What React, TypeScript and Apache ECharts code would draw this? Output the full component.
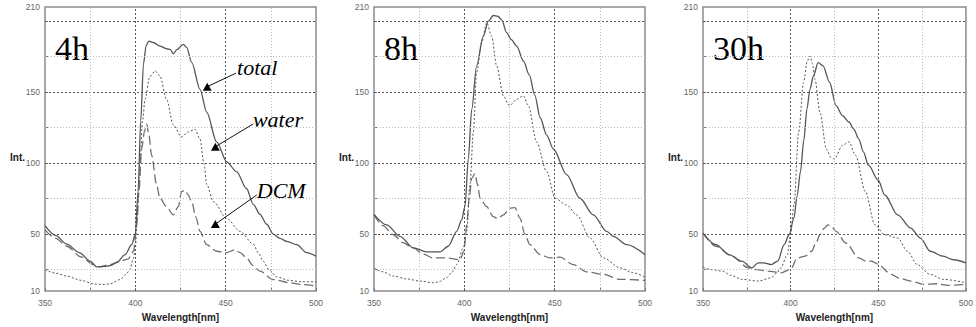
import React, { useEffect, useRef } from "react";
import * as echarts from "echarts";

// ---- data (wavelength nm, intensity) ----
const total4h = [[350,56],[356,49],[362,43],[369,37],[375,31],[378.6,27],[383,27.3],[386,27.8],[389.7,30],[394.3,35.6],[398,42.6],[400,50],[401.5,80],[403,130],[404.5,170],[406,183],[407.5,186],[410,185],[413.6,182.5],[417.3,180.6],[419.5,180],[421,177],[423,180],[426.6,183.7],[428.4,181.5],[431.2,171],[435.8,152],[439.5,136],[445,115],[450.6,101],[456,94],[461.6,82],[465.3,71],[469,64],[472.7,57],[476.4,50],[480,47],[483.8,45],[489.3,42.6],[494.8,37],[500,34.5]];
const water4h = [[350,25],[356,22.5],[362,20.5],[370,17.5],[377,15],[382,14.6],[386,15],[391.5,18],[395,22],[397,25],[398.9,33],[400,40],[401,60],[402.6,100],[404,130],[405.4,145],[408,161],[411,165],[413.6,161.5],[417.3,145],[421,127],[425.6,118.5],[429.3,122],[433,124],[435.8,117],[438,100],[439.5,85],[443.2,73],[450.6,61],[458,52],[465.3,43],[468,37],[470.8,31],[474,25],[478.2,20],[485,17.5],[492,16.5],[500,16.5]];
const dcm4h = [[350,53],[356,47],[362,41.5],[370,34],[376.8,28.6],[380.4,27],[386,28.6],[391.5,31],[396,32.5],[399,38],[400.7,56],[402,80],[403.5,110],[405,122],[406.3,127.7],[407.5,120],[409,105.6],[411.8,84.6],[413.6,75.3],[417.3,69.4],[421,63.6],[423.8,69.4],[425.6,80],[427.5,81],[429,78],[431.2,73],[433.5,62],[435.8,52],[439.5,42.6],[445,38],[450.6,37],[455,39],[458,37],[461.6,33.3],[465,28],[469,24],[476.4,18],[485.6,15.8],[492,14.5],[500,13.5]];

const total8h = [[350,64],[357,56.6],[364.4,48.5],[371.8,40.3],[379.2,37.5],[386.5,37.5],[391.1,41.5],[395.8,52],[398.5,60],[400.4,70],[402.2,103],[404.1,138],[406.8,168.5],[410.5,189.5],[413.3,200],[416,204],[418.5,203.5],[420.7,201],[423.4,192],[426,187],[429,182.5],[432.7,172],[436,162],[439,148],[442,132],[445.5,120],[449.3,110],[456.6,92],[464,75.3],[471.4,63.6],[478.8,52],[482.5,48.5],[489.9,42.6],[500,35.6]];
const water8h = [[350,26],[355,23.5],[360.7,20.5],[368,18.5],[375.5,17],[382.8,15.8],[386,16.5],[390.2,19.3],[393,23],[395.8,28.6],[399.4,40.3],[401.3,52],[403.1,84.6],[405,122],[406.8,164],[409.6,185],[412.4,199],[415.1,189.5],[417.9,168.5],[421.6,147.5],[424.9,140.5],[429,145],[432.7,147.5],[435.4,140.5],[440,115],[445.6,94],[450.2,75.3],[456.6,70.6],[462.2,63.6],[469.6,47.3],[477,33.3],[486.2,26.3],[493,23],[500,19.8]];
const dcm8h = [[350,63.6],[355,56],[360.7,49.6],[366,44],[371.8,40.3],[377,36],[382.8,33.3],[390.2,33.3],[397.6,32],[399.8,38],[401.3,56.6],[402.7,75],[404.1,89.3],[405.9,92.7],[407.3,85],[408.7,75.3],[412.4,69.4],[416,62.4],[418.5,61],[421.6,63.6],[425.3,68.3],[428,68.7],[430.8,61.3],[433.5,50],[436.3,42.6],[441.9,35.6],[447.4,33.3],[453,33.8],[460.3,28.6],[467.7,23.5],[476.9,21.7],[486.2,18.2],[500,17.5]];

const total30h = [[350,50.8],[357.4,42.6],[364.8,35.6],[372.2,31],[377.8,26.3],[381.5,29.8],[384.3,29.8],[388.9,28.6],[392.6,31],[396.3,42.6],[399.1,49.6],[401.9,61.3],[403.7,77],[405.6,94],[407.5,116],[409.3,138],[411,152],[413,161.5],[415.7,170.8],[418.5,168.5],[422.2,157],[425.9,140.5],[429.6,133.5],[433.3,129],[436,124],[438.9,117],[441.5,108],[444.4,98.6],[450,88],[453.7,77.6],[461.1,63.6],[468.5,54.3],[474.1,47.3],[479.6,38],[487,34.5],[493,32],[500,29.8]];
const water30h = [[350,26.8],[355,25],[361.1,24],[366,21],[372.2,18.2],[381.5,17],[388.9,19.3],[392,22.5],[394.4,26.3],[398.1,35.6],[400,50],[401.9,70.6],[404.6,122],[407.4,157],[409.5,172],[411.1,175.5],[412.5,170],[413.9,159],[416.7,136],[420.4,110],[423,104],[425,103],[429.6,112.6],[433.3,115],[437,105.6],[442.6,80],[448.1,56.6],[453.7,49.6],[461.1,47.3],[466.7,38],[472.2,28.6],[479.6,21.7],[487,18.2],[500,15.8]];
const dcm30h = [[350,50.8],[357.4,41.5],[366.7,34.5],[375.9,26.3],[381,25],[387,24],[394.4,22.8],[400,25.2],[403.7,33.3],[408.3,34.5],[412,38],[414.5,44],[416.7,49.6],[419,54],[421.3,56.6],[423.5,55],[425.9,52],[431.5,43.8],[438.9,33.3],[443,31],[446.3,31],[448,30],[450,28.6],[457.4,21.7],[462,19],[468.5,17],[475.9,14.7],[483.3,15.1],[490,14],[500,14.7]];

const panelLabels = ["4h", "8h", "30h"];
const yLabelValues = [10, 50, 100, 150, 210];
const yTickValues = [25, 50, 75, 100, 125, 150, 175, 200];
const majorY = [50, 100, 150, 200];
const minorY = [25, 75, 125, 175];
const majorX = [400, 450];
const minorX = [375, 425, 475];

// annotation (panel 1) in data coordinates
const arrowLabels = ["total", "water", "DCM"];
const arrowTextAt = [[456.3, 167.5], [465.1, 130.5], [467.2, 80.5]];
const arrowFrom = [[455.7, 163.4], [465.3, 127.7], [467.2, 77.6]];
const arrowTip = [[439.8, 153.9], [444.3, 111.6], [444.3, 57.1]];

const SANS = "'Liberation Sans', Arial, sans-serif";
const SERIF = "'Liberation Serif', 'Times New Roman', serif";

export default function App() {
  const ref = useRef<HTMLDivElement>(null);
  useEffect(() => {
    if (!ref.current) return;
    const chart = echarts.init(ref.current, undefined, { renderer: "svg" });
    const data = [
      [total4h, water4h, dcm4h],
      [total8h, water8h, dcm8h],
      [total30h, water30h, dcm30h],
    ];
    const lefts = [45, 374, 703];
    const widths = [271, 271, 270];
    const top = 7;
    const height = 286;

    const grids = lefts.map((l, i) => ({
      left: l, top, width: widths[i], height,
      show: true, borderColor: "#8c8c8c", borderWidth: 1.5, backgroundColor: "transparent",
    }));
    const xAxes = lefts.map((_, i) => ({
      type: "value", gridIndex: i, min: 350, max: 500, interval: 25,
      axisLine: { show: false },
      axisTick: { show: true, inside: true, length: 3, lineStyle: { color: "#777" } },
      axisLabel: {
        formatter: (v: number) => (v % 50 === 0 ? String(v) : ""),
        color: "#666", fontSize: 8.5, fontFamily: SANS, margin: 7,
      },
      splitLine: { show: false },
      name: "Wavelength[nm]", nameLocation: "middle", nameGap: 21,
      nameTextStyle: { fontWeight: "bold", fontSize: 10, color: "#222", fontFamily: SANS },
    }));
    const yAxes = lefts.map((_, i) => ({
      type: "value", gridIndex: i, min: 10, max: 210,
      axisLine: { show: false },
      axisTick: { show: true, inside: true, length: 3, customValues: yTickValues, lineStyle: { color: "#777" } },
      axisLabel: { customValues: yLabelValues, color: "#666", fontSize: 8.5, fontFamily: SANS, margin: 5 },
      splitLine: { show: false },
    }));

    const gridLines = [
      ...majorY.map((v) => ({ yAxis: v, lineStyle: { color: "#555", type: [2, 2], width: 1 } })),
      ...minorY.map((v) => ({ yAxis: v, lineStyle: { color: "#bbb", type: [1, 2], width: 1 } })),
      ...majorX.map((v) => ({ xAxis: v, lineStyle: { color: "#555", type: [2, 2], width: 1 } })),
      ...minorX.map((v) => ({ xAxis: v, lineStyle: { color: "#bbb", type: [1, 2], width: 1 } })),
    ];

    const series: any[] = [];
    data.forEach((d, i) => {
      // grid line carrier
      series.push({
        type: "line", xAxisIndex: i, yAxisIndex: i, data: [], silent: true, z: 1,
        markLine: { silent: true, symbol: ["none", "none"], label: { show: false }, data: gridLines, animation: false },
      });
      series.push({
        type: "line", xAxisIndex: i, yAxisIndex: i, data: d[2], showSymbol: false, smooth: 0.3, smoothMonotone: "x", z: 3,
        lineStyle: { color: "#6e6e6e", width: 1.3, type: [9, 4] },
      });
      series.push({
        type: "line", xAxisIndex: i, yAxisIndex: i, data: d[1], showSymbol: false, smooth: 0.3, smoothMonotone: "x", z: 3,
        lineStyle: { color: "#555", width: 1, type: [2, 2] },
      });
      const tot: any = {
        type: "line", xAxisIndex: i, yAxisIndex: i, data: d[0], showSymbol: false, smooth: 0.3, smoothMonotone: "x", z: 4,
        lineStyle: { color: "#555", width: 1.3 },
      };
      if (i === 0) {
        tot.markLine = {
          silent: true, symbol: ["none", "none"], label: { show: false },
          lineStyle: { color: "#111", width: 1, type: "solid" },
          data: arrowFrom.map((f, k) => [{ coord: f }, { coord: arrowTip[k] }]),
        };
        tot.markPoint = {
          silent: true,
          data: [
            ...arrowTip.map((t) => ({ coord: t, symbol: "triangle", symbolSize: [9, 8], itemStyle: { color: "#000" }, label: { show: false } })),
            ...arrowTextAt.map((t, k) => ({
              coord: t, symbol: "circle", symbolSize: 0,
              label: {
                show: true, position: "right", distance: 0, formatter: arrowLabels[k],
                fontFamily: SERIF, fontStyle: "italic", fontSize: 22, color: "#000",
              },
            })),
          ],
        };
      }
      series.push(tot);
    });

    const graphic: any[] = [];
    lefts.forEach((l, i) => {
      graphic.push({
        type: "text", x: l - 20, y: 157, silent: true,
        style: { text: "Int.", font: `bold 10px ${SANS}`, fill: "#222", align: "right", verticalAlign: "middle" },
      });
      graphic.push({
        type: "text", x: l + 10, y: 48.5, silent: true,
        style: { text: panelLabels[i], font: `34px ${SERIF}`, fill: "#000", align: "left", verticalAlign: "middle" },
      });
    });

    chart.setOption({
      animation: false,
      backgroundColor: "#fff",
      grid: grids,
      xAxis: xAxes,
      yAxis: yAxes,
      series,
      graphic,
    });
    return () => chart.dispose();
  }, []);
  return <div ref={ref} style={{ position: "absolute", left: 0, top: 0, width: 976, height: 327 }} />;
}
